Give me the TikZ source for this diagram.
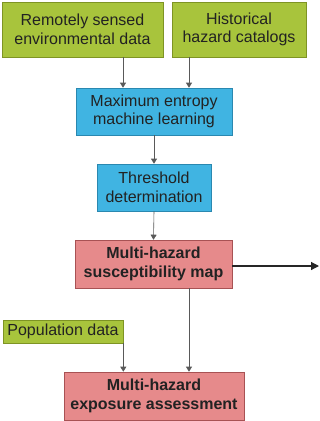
\documentclass[tikz,border=0pt]{standalone}
\usepackage{fontspec}
\setmainfont{Liberation Sans}
\usetikzlibrary{arrows.meta}
\definecolor{gfill}{HTML}{A8C43C}
\definecolor{gdraw}{HTML}{7E9424}
\definecolor{bfill}{HTML}{40B4E2}
\definecolor{bdraw}{HTML}{2A88B0}
\definecolor{rfill}{HTML}{E68A8B}
\definecolor{rdraw}{HTML}{A85254}
\definecolor{txt}{HTML}{222222}
\begin{document}
\begin{tikzpicture}[x=1pt,y=-1pt,
  box/.style={draw, line width=0.6pt, inner sep=0pt, align=center, text=txt,
    font=\fontsize{16}{18.5}\selectfont},
  gbox/.style={box, fill=gfill, draw=gdraw},
  bbox/.style={box, fill=bfill, draw=bdraw},
  rbox/.style={box, fill=rfill, draw=rdraw, font=\fontsize{16}{18.5}\selectfont\bfseries},
  conn/.style={draw=gray!70!black, line width=0.6pt, -{Triangle[length=5pt,width=6pt]}},
  bigconn/.style={draw=black!85, line width=1.2pt, -{Triangle[length=8pt,width=8pt]}}]
\useasboundingbox (0,0) rectangle (320,421);
\node[gbox, minimum width=161, minimum height=55] (A) at (82.5,29.5) {Remotely sensed\\environmental data};
\node[gbox, minimum width=134, minimum height=55] (B) at (239,29.5) {Historical\\hazard catalogs};
\node[bbox, minimum width=156, minimum height=47] (C) at (154,111.5) {Maximum entropy\\machine learning};
\node[bbox, minimum width=114, minimum height=47] (D) at (154,187.5) {Threshold\\determination};
\node[rbox, minimum width=157, minimum height=48] (E) at (153.5,264) {Multi-hazard\\susceptibility map};
\node[gbox, minimum width=120, minimum height=23] (F) at (63,331.5) {Population data};
\node[rbox, minimum width=180, minimum height=48] (G) at (154,396) {Multi-hazard\\exposure assessment};
\coordinate (out) at (319,266);
\draw[conn] (A.south -| 123,0) -- (C.north -| 123,0);
\draw[conn] (B.south -| 189,0) -- (C.north -| 189,0);
\draw[conn] (C.south) -- (D.north);
\draw[conn] (D.south) -- (E.north);
\draw[conn] (F.south east) -- (G.north -| F.south east);
\draw[conn] (E.south -| 189,0) -- (G.north -| 189,0);
\draw[bigconn] (E.east |- out) -- (out);
\end{tikzpicture}
\end{document}
